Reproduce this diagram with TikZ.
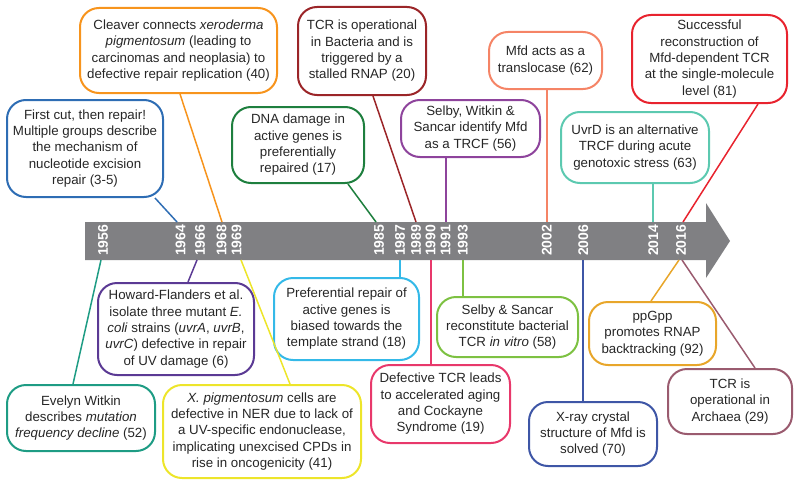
\documentclass[tikz,border=0pt]{standalone}
\usepackage{fontspec}
\setmainfont{Liberation Sans}
\definecolor{barg}{HTML}{808083}
\definecolor{cA}{HTML}{2E6DB4}
\definecolor{cB}{HTML}{F7941D}
\definecolor{cC}{HTML}{1E7F3E}
\definecolor{cD}{HTML}{9B2528}
\definecolor{cE}{HTML}{8E449C}
\definecolor{cF}{HTML}{F58466}
\definecolor{cG}{HTML}{E8232E}
\definecolor{cH}{HTML}{5CC9B0}
\definecolor{cI}{HTML}{1E9C84}
\definecolor{cJ}{HTML}{5B3A94}
\definecolor{cK}{HTML}{EDE52A}
\definecolor{cL}{HTML}{34B9E8}
\definecolor{cM}{HTML}{E8386B}
\definecolor{cN}{HTML}{7DC142}
\definecolor{cO}{HTML}{3E56A6}
\definecolor{cP}{HTML}{E8A62A}
\definecolor{cQ}{HTML}{9A5B6F}
\tikzset{
  evt/.style={draw=#1, line width=2pt, rounded corners=19pt, align=center,
    inner sep=0pt, font=\fontsize{13.3}{16.3}\selectfont, text=black!85},
  link/.style={draw=#1, line width=1.5pt},
  yr/.style={rotate=90, anchor=east, inner sep=0pt, text=white,
    font=\fontsize{14}{14}\selectfont\bfseries}
}
\begin{document}
\begin{tikzpicture}[x=1pt,y=-1pt]
\useasboundingbox (0,0) rectangle (800,487);
% timeline arrow
\fill[barg] (85,222) -- (706,222) -- (706,203) -- (730,241) -- (706,278) -- (706,260) -- (85,260) -- cycle;
% year labels
\foreach \x/\y in {103/1956,180.5/1964,200/1966,221.5/1968,236.5/1969,379/1985,400/1987,416/1989,430.5/1990,445.5/1991,462.7/1993,546.7/2002,583.3/2006,653.3/2014,681/2016}
  \node[yr] (yl\y) at (\x,224.5) {\y};
% attachment points on the bar
\coordinate (t1964) at (177,222);
\coordinate (t1968) at (222,222);
\coordinate (t1985) at (376,222);
\coordinate (t1989) at (416,222);
\coordinate (t1991) at (446,222);
\coordinate (t2002) at (547,222);
\coordinate (t2014) at (653,222);
\coordinate (t2016) at (683,222);
\coordinate (b1956) at (101,260);
\coordinate (b1966) at (197,260);
\coordinate (b1969) at (241,260);
\coordinate (b1987) at (400,260);
\coordinate (b1990) at (431,260);
\coordinate (b1993) at (463,260);
\coordinate (b2006) at (583,260);
\coordinate (b2016a) at (679,260);
\coordinate (b2016b) at (682,260);
% top boxes
\node[evt=cA, minimum width=156pt, minimum height=97pt] (e1964) at (85,148.5)
  {First cut, then repair!\\Multiple groups describe\\the mechanism of\\nucleotide excision\\repair (3-5)};
\node[evt=cB, minimum width=197pt, minimum height=85pt] (e1968) at (178.5,50.5)
  {Cleaver connects \textit{xeroderma}\\\textit{pigmentosum} (leading to\\carcinomas and neoplasia) to\\defective repair replication (40)};
\node[evt=cC, minimum width=132pt, minimum height=76pt] (e1985) at (298,145)
  {DNA damage in\\active genes is\\preferentially\\repaired (17)};
\node[evt=cD, minimum width=128pt, minimum height=88pt] (e1989) at (362,51)
  {TCR is operational\\in Bacteria and is\\triggered by a\\stalled RNAP (20)};
\node[evt=cE, minimum width=139pt, minimum height=57pt] (e1991) at (470.5,128.5)
  {Selby, Witkin \&\\Sancar identify Mfd\\as a TRCF (56)};
\node[evt=cF, minimum width=113pt, minimum height=57pt] (e2002) at (545.5,60.5)
  {Mfd acts as a\\translocase (62)};
\node[evt=cG, minimum width=155pt, minimum height=88pt] (e2016t) at (709.5,59)
  {Successful\\reconstruction of\\Mfd-dependent TCR\\at the single-molecule\\level (81)};
\node[evt=cH, minimum width=148pt, minimum height=71pt] (e2014) at (635,147.5)
  {UvrD is an alternative\\TRCF during acute\\genotoxic stress (63)};
% bottom boxes
\node[evt=cI, minimum width=148pt, minimum height=66pt] (e1956) at (81,418)
  {Evelyn Witkin\\describes \textit{mutation}\\\textit{frequency decline} (52)};
\node[evt=cJ, minimum width=156pt, minimum height=92pt] (e1966) at (176,329)
  {Howard-Flanders et al.\\isolate three mutant \textit{E.}\\\textit{coli} strains (\textit{uvrA}, \textit{uvrB},\\\textit{uvrC}) defective in repair\\of UV damage (6)};
\node[evt=cK, minimum width=198pt, minimum height=93pt] (e1969) at (262,431.5)
  {\textit{X. pigmentosum} cells are\\defective in NER due to lack of\\a UV-specific endonuclease,\\implicating unexcised CPDs in\\rise in oncogenicity (41)};
\node[evt=cL, minimum width=145pt, minimum height=82pt] (e1987) at (346.5,319)
  {Preferential repair of\\active genes is\\biased towards the\\template strand (18)};
\node[evt=cM, minimum width=139pt, minimum height=78pt] (e1990) at (440.5,404)
  {Defective TCR leads\\to accelerated aging\\and Cockayne\\Syndrome (19)};
\node[evt=cN, minimum width=141pt, minimum height=60pt] (e1993) at (507.5,327)
  {Selby \& Sancar\\reconstitute bacterial\\TCR \textit{in vitro} (58)};
\node[evt=cO, minimum width=128pt, minimum height=64pt] (e2006) at (593,434)
  {X-ray crystal\\structure of Mfd is\\solved (70)};
\node[evt=cP, minimum width=127pt, minimum height=63pt] (e2016a) at (652.5,333.5)
  {ppGpp\\promotes RNAP\\backtracking (92)};
\node[evt=cQ, minimum width=124pt, minimum height=65pt] (e2016b) at (730,401.5)
  {TCR is\\operational in\\Archaea (29)};
% connectors, top
\draw[link=cA] ([xshift=70pt]e1964.south) -- (t1964);
\draw[link=cB] ([xshift=1.5pt]e1968.south) -- (t1968);
\draw[link=cC] ([xshift=50pt]e1985.south) -- (t1985);
\draw[link=cD] ([xshift=11pt]e1989.south) -- (t1989);
\draw[link=cE] (e1991.south -| t1991) -- (t1991);
\draw[link=cF] (e2002.south -| t2002) -- (t2002);
\draw[link=cG] ([xshift=48.5pt]e2016t.south) -- (t2016);
\draw[link=cH] (e2014.south -| t2014) -- (t2014);
% connectors, bottom
\draw[link=cI] (b1956) -- ([xshift=-8pt]e1956.north);
\draw[link=cJ] (b1966) -- ([xshift=12pt]e1966.north);
\draw[link=cK] (b1969) -- ([xshift=28pt]e1969.north);
\draw[link=cL] (b1987) -- (e1987.north -| b1987);
\draw[link=cM] (b1990) -- (e1990.north -| b1990);
\draw[link=cN] (b1993) -- (e1993.north -| b1993);
\draw[link=cO] (b2006) -- (e2006.north -| b2006);
\draw[link=cP] (b2016a) -- ([xshift=-1.5pt]e2016a.north);
\draw[link=cQ] (b2016b) -- ([xshift=25pt]e2016b.north);
\end{tikzpicture}
\end{document}
